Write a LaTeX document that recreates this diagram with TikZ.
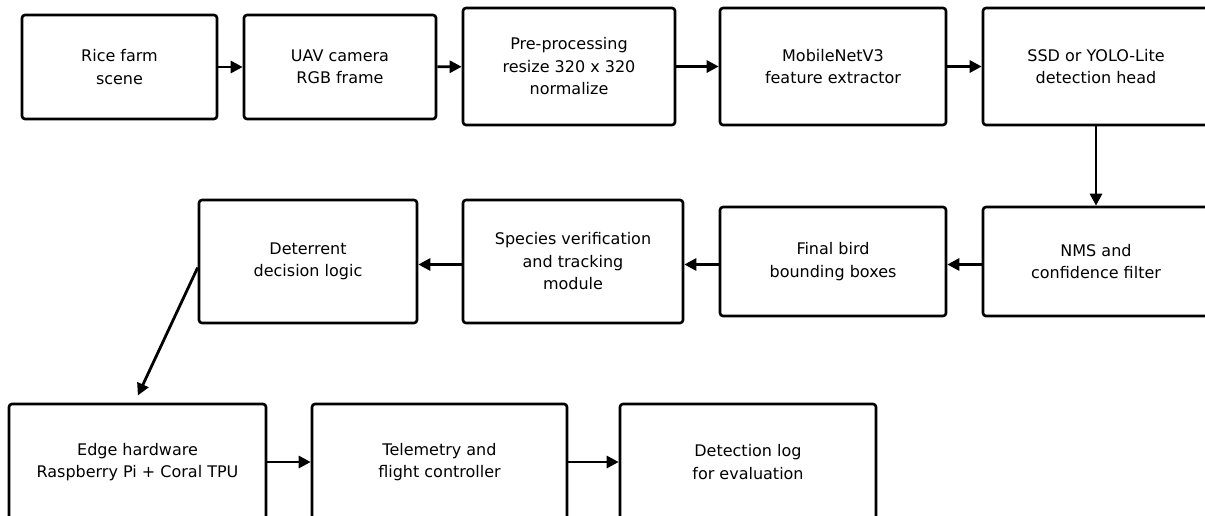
\documentclass[tikz,border=0pt]{standalone}
\usepackage{fontspec}
\setmainfont{DejaVu Sans}
\usetikzlibrary{arrows.meta}
\begin{document}
\begin{tikzpicture}[x=1pt,y=-1pt,
  box/.style={draw=black,line width=2.6pt,rounded corners=3pt,align=center,
    inner sep=0pt,font=\fontsize{16}{22.5}\selectfont},
  arr/.style={line width=2.8pt,-{Triangle[length=12pt,width=12pt]}}]
\useasboundingbox (0,0) rectangle (1205,515);
\fill[white] (0,0) rectangle (1205,515);
\clip (0,0) rectangle (1205,515);
\node[box,minimum width=195pt,minimum height=104pt] (b1) at (119.5,67) {Rice farm\\scene};
\node[box,minimum width=192pt,minimum height=104pt] (b2) at (340,67) {UAV camera\\RGB frame};
\node[box,minimum width=212pt,minimum height=117pt] (b3) at (569,66.5) {Pre-processing\\resize 320 x 320\\normalize};
\node[box,minimum width=226pt,minimum height=117pt] (b4) at (833,66.5) {MobileNetV3\\feature extractor};
\node[box,minimum width=226pt,minimum height=117pt] (b5) at (1096,66.5) {SSD or YOLO-Lite\\detection head};
\node[box,minimum width=226pt,minimum height=109pt] (b6) at (1096,261.5) {NMS and\\confidence filter};
\node[box,minimum width=226pt,minimum height=109pt] (b7) at (833,261.5) {Final bird\\bounding boxes};
\node[box,minimum width=220pt,minimum height=123pt] (b8) at (573,261.5) {Species verification\\and tracking\\module};
\node[box,minimum width=218pt,minimum height=123pt] (b9) at (308,261.5) {Deterrent\\decision logic};
\node[box,minimum width=257pt,minimum height=116pt] (b10) at (137.5,462) {Edge hardware\\Raspberry Pi + Coral TPU};
\node[box,minimum width=255pt,minimum height=116pt] (b11) at (439.5,462) {Telemetry and\\flight controller};
\node[box,minimum width=256pt,minimum height=116pt] (b12) at (748,462) {Detection log\\for evaluation};
\draw[arr] (b1) -- (b2);
\draw[arr] (b2) -- (b3);
\draw[arr] (b3) -- (b4);
\draw[arr] (b4) -- (b5);
\draw[arr] (b5) -- (b6);
\draw[arr] ([yshift=-3pt]b6.west) -- ([yshift=-3pt]b7.east);
\draw[arr] ([yshift=-3pt]b7.west) -- ([yshift=-3pt]b8.east);
\draw[arr] ([yshift=-3pt]b8.west) -- ([yshift=-3pt]b9.east);
\draw[arr,shorten >=8pt] ([yshift=-6pt]b9.west) -- ([xshift=-3pt]b10.north);
\draw[arr] (b10) -- (b11);
\draw[arr] (b11) -- (b12);
\end{tikzpicture}
\end{document}
